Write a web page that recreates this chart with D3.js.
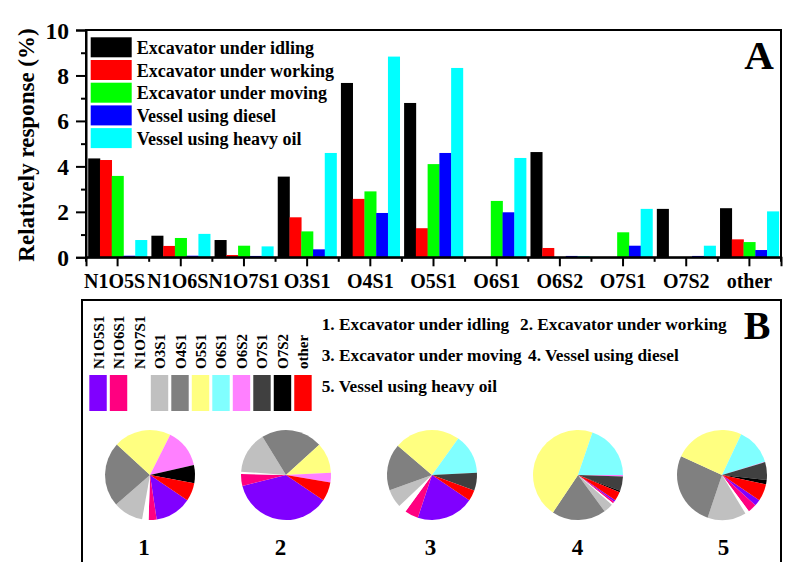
<!DOCTYPE html>
<html><head><meta charset="utf-8">
<script src="https://cdn.jsdelivr.net/npm/d3@7"></script>
<style>
body{margin:0;background:#fff}
svg text{font-family:"Liberation Serif","Times New Roman",serif;font-weight:bold;fill:#000}
</style>
</head><body><svg id="c" width="789" height="562"></svg>
<script>
// ---------------- data ----------------
const categories = ["N1O5S1","N1O6S1","N1O7S1","O3S1","O4S1","O5S1","O6S1","O6S2","O7S1","O7S2","other"];
const tickLabels = ["N1O5S","N1O6S","N1O7S1","O3S1","O4S1","O5S1","O6S1","O6S2","O7S1","O7S2","other"];
const seriesNames = ["Excavator under idling","Excavator under working","Excavator under moving","Vessel using diesel","Vessel using heavy oil"];
const idling   = [4.35,0.95,0.76,3.55,7.67,6.79,0.00,4.63,0.00,2.13,2.16];
const working  = [4.28,0.50,0.10,1.76,2.57,1.28,0.00,0.41,0.00,0.00,0.79];
const moving   = [3.58,0.85,0.51,1.14,2.90,4.10,2.48,0.00,1.10,0.00,0.67];
const diesel   = [0.07,0.07,0.06,0.35,1.95,4.59,1.98,0.06,0.51,0.06,0.32];
const heavyOil = [0.76,1.03,0.48,4.59,8.83,8.33,4.37,0.05,2.13,0.51,2.02];
const yTicks = [0,2,4,6,8,10];
const yMinorTicks = [1,3,5,7,9];
const pieLabels = ["1","2","3","4","5"];
const yTitle = "Relatively response (%)";

// ---------------- styles / layout ----------------
const seriesValues = [idling, working, moving, diesel, heavyOil];
const seriesColors = ["#000000","#ff0000","#00ff00","#0000ff","#00ffff"];
const catColors = ["#8000ff","#ff0080","#ffffff","#c0c0c0","#808080","#ffff80","#80ffff","#ff80ff","#404040","#000000","#ff0000"];
const pieCx = [150,286,432,578,722];
const pieLabelX = [144,280.5,430.5,577.5,723.5];

const svg = d3.select("#c");
svg.append("rect").attr("width",789).attr("height",562).attr("fill","#fff");

// ---------- Panel A ----------
const L=86, R=781, T=30, B=257.3;
const x = d3.scaleBand().domain(categories).range([L,R]).padding(0);
const xs = d3.scaleBand().domain(d3.range(5)).range([2.2, x.bandwidth()-2.2]).padding(0);
const y = d3.scaleLinear().domain([0,10]).range([B,T]);

const gBars = svg.append("g");
seriesValues.forEach((vals,si)=>{
  gBars.selectAll(null).data(vals).join("rect")
    .attr("x",(d,i)=>x(categories[i])+xs(si))
    .attr("width",xs.bandwidth()+0.3)
    .attr("y",d=>y(d))
    .attr("height",d=>B-y(d))
    .attr("fill",seriesColors[si]);
});

// frame
svg.append("rect").attr("x",L).attr("y",T).attr("width",R-L).attr("height",B-T)
  .attr("fill","none").attr("stroke","#000").attr("stroke-width",2);

// y axis
const yAxis = svg.append("g").attr("transform",`translate(${L},0)`)
  .call(d3.axisLeft(y).tickValues(yTicks).tickSize(10).tickPadding(7).tickFormat(d3.format("d")));
yAxis.select(".domain").attr("stroke-width",2);
yAxis.selectAll(".tick line").attr("stroke-width",2);
yAxis.selectAll("text").style("font-size","23.5px").attr("dy","0.34em");
const yMinor = svg.append("g").attr("transform",`translate(${L},0)`)
  .call(d3.axisLeft(y).tickValues(yMinorTicks).tickSize(5).tickFormat(""));
yMinor.select(".domain").remove();
yMinor.selectAll(".tick line").attr("stroke-width",2);

// x axis
const xAxis = svg.append("g").attr("transform",`translate(0,${B})`)
  .call(d3.axisBottom(x).tickSize(9).tickFormat(""));
xAxis.select(".domain").attr("stroke-width",2);
xAxis.selectAll(".tick line").attr("stroke-width",2);
const bounds = d3.range(categories.length+1).map(i=>L+i*x.step());
svg.append("g").selectAll("line").data(bounds).join("line")
  .attr("x1",d=>d).attr("x2",d=>d).attr("y1",B).attr("y2",B+4.5)
  .attr("stroke","#000").attr("stroke-width",2);

// x tick labels (first two are cut short in the original because the next label overlaps them)
const xl = svg.append("g").style("font-size","20px");
const fullW = categories.map(c=>{
  const t = xl.append("text").text(c); const w = t.node().getComputedTextLength(); t.remove(); return w;
});
const centers = categories.map(c=>x(c)+x.bandwidth()/2);
tickLabels.forEach((lab,i)=>{
  if (lab === categories[i]) {
    xl.append("text").attr("x",centers[i]).attr("y",288).attr("text-anchor","middle").text(lab);
  } else {
    const nextStart = centers[i+1] - fullW[i+1]/2;
    xl.append("text").attr("x",nextStart).attr("y",288).attr("text-anchor","end").text(lab);
  }
});

// y title
svg.append("text").attr("transform",`translate(33.5,145) rotate(-90)`)
  .attr("text-anchor","middle").style("font-size","23px").text(yTitle);

// legend A
const lgA = svg.append("g");
seriesNames.forEach((n,i)=>{
  const yy = 37.3 + i*22.7;
  lgA.append("rect").attr("x",90.7).attr("y",yy).attr("width",41).attr("height",20).attr("fill",seriesColors[i]);
  lgA.append("text").attr("x",136.7).attr("y",yy+16.5).style("font-size","18px").text(n);
});
svg.append("text").attr("x",759).attr("y",69).attr("text-anchor","middle").style("font-size","41px").text("A");

// ---------- Panel B ----------
svg.append("rect").attr("x",82).attr("y",300).attr("width",699).attr("height",280)
  .attr("fill","none").attr("stroke","#000").attr("stroke-width",2);

// colour legend
const sx = d3.scaleBand().domain(categories).range([88.3, 88.3+11*20.4]).paddingInner(0.15).paddingOuter(0.05);
const lgB = svg.append("g");
categories.forEach((c,i)=>{
  const cx = sx(c)+sx.bandwidth()/2;
  if (catColors[i] !== "#ffffff")
    lgB.append("rect").attr("x",sx(c)).attr("y",375).attr("width",sx.bandwidth()).attr("height",36).attr("fill",catColors[i]);
  lgB.append("text").attr("transform",`translate(${cx+5.5},369) rotate(-90)`)
    .attr("text-anchor","start").style("font-size","15px").text(c);
});

// numbered legend
const numPos = [[321.7,330],[520,330],[321.7,361],[528,361],[321.7,392]];
seriesNames.forEach((n,i)=>{
  svg.append("text").attr("x",numPos[i][0]).attr("y",numPos[i][1]).style("font-size","17.3px")
    .text(`${i+1}. ${n}`);
});
svg.append("text").attr("x",757).attr("y",339).attr("text-anchor","middle").style("font-size","40px").text("B");

// pies
const a0 = 124*Math.PI/180;
const pie = d3.pie().sort(null).startAngle(a0).endAngle(a0+2*Math.PI);
const arc = d3.arc().innerRadius(0).outerRadius(45);
seriesValues.forEach((vals,si)=>{
  const g = svg.append("g").attr("transform",`translate(${pieCx[si]},475)`);
  g.selectAll("path").data(pie(vals)).join("path")
    .attr("d",arc).attr("fill",(d,i)=>catColors[i]);
  svg.append("text").attr("x",pieLabelX[si]).attr("y",555).attr("text-anchor","middle")
    .style("font-size","23px").text(pieLabels[si]);
});
</script></body></html>
